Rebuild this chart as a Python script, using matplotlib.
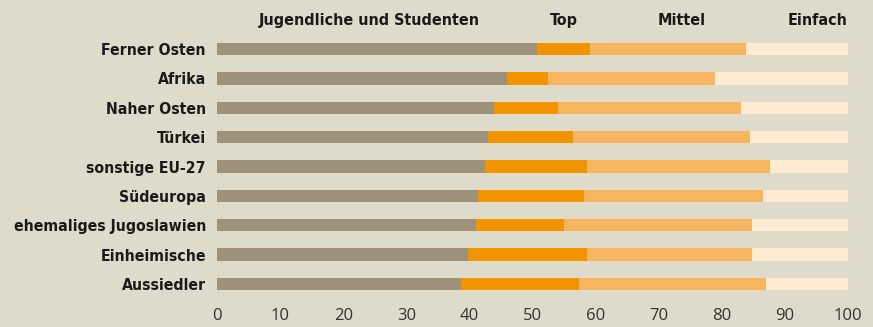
import numpy as np
import matplotlib.pyplot as plt

# Anteile in Prozent je Herkunftsgruppe
herkunft = ['Ferner Osten', 'Afrika', 'Naher Osten', 'Türkei', 'sonstige EU-27',
            'Südeuropa', 'ehemaliges Jugoslawien', 'Einheimische', 'Aussiedler']
jugend = [50.7, 45.9, 43.9, 42.9, 42.4, 41.4, 41.1, 39.8, 38.7]
top = [8.4, 6.6, 10.1, 13.5, 16.3, 16.8, 13.9, 18.9, 18.7]
mittel = [24.7, 26.4, 29.0, 28.0, 28.9, 28.4, 29.8, 26.1, 29.6]
einfach = [16.2, 21.1, 17.0, 15.6, 12.4, 13.4, 15.2, 15.2, 13.0]

gruppen = ['Jugendliche und Studenten', 'Top', 'Mittel', 'Einfach']
farben = ['#9e9179', '#f29400', '#f8b55f', '#feebd2']
bg = '#dfdbca'

fig = plt.figure(figsize=(8.73, 3.27), dpi=100, facecolor=bg)
ax = fig.add_axes([0.2486, 0.0865, 0.7228, 0.8085], facecolor=bg)

y = np.arange(len(herkunft))
links = np.zeros(len(herkunft))
for werte, farbe in zip([jugend, top, mittel, einfach], farben):
    ax.barh(y, werte, left=links, height=0.42, color=farbe, linewidth=0)
    links += np.array(werte)

ax.set_xlim(0, 100)
ax.set_ylim(len(herkunft) - 0.5, -0.5)
ax.set_yticks(y)
ax.set_yticklabels(herkunft, fontsize=11.3, fontweight='bold', fontstretch='condensed',
                   color='#1a1a1a')
ax.set_xticks(range(0, 101, 10))
ax.set_xticklabels([str(v) for v in range(0, 101, 10)], fontsize=12,
                   family='Open Sans', fontweight='normal', color='#333333')
ax.tick_params(axis='both', length=0)
ax.tick_params(axis='y', pad=8)
ax.tick_params(axis='x', pad=7)
for s in ax.spines.values():
    s.set_visible(False)

# Spaltenköpfe über den Balken
kopf_x = [24.1, 55.0, 73.7, 95.1]
for name, xpos in zip(gruppen, kopf_x):
    ax.text(xpos, -0.98, name, ha='center', va='center', fontsize=11.5,
            fontweight='bold', fontstretch='condensed', color='#1a1a1a')

fig.savefig('out.png', dpi=100, facecolor=bg)
